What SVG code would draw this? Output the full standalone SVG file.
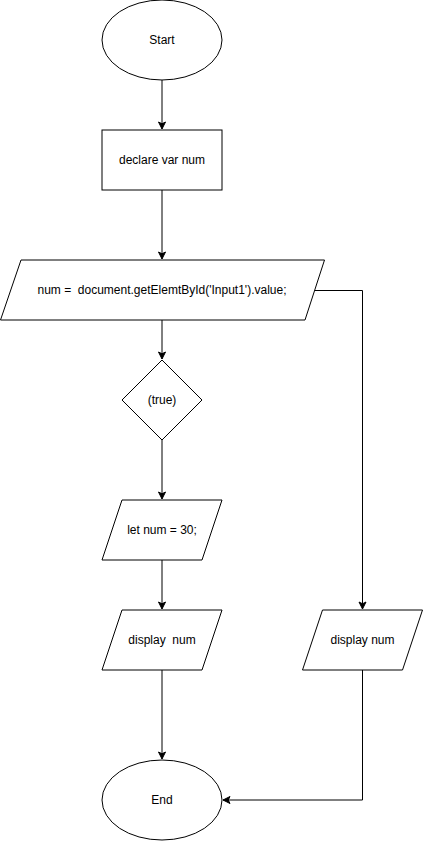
<svg xmlns="http://www.w3.org/2000/svg" width="423" height="841" viewBox="0 0 423 841">
<style>
.s{fill:#fff;stroke:#000;stroke-width:1}
.t{font-family:"Liberation Sans",Arial,sans-serif;font-size:12px;fill:#000;text-anchor:middle;dominant-baseline:central;white-space:pre}
.c{fill:none;stroke:#000;stroke-width:1}
</style>
<defs>
<marker id="a" markerWidth="10" markerHeight="10" refX="8" refY="5" orient="auto" markerUnits="userSpaceOnUse">
<path d="M1,1.5 L8,5 L1,8.5 L2.75,5 Z" fill="#000" stroke="#000" stroke-width="1"/>
</marker>
</defs>
<rect width="423" height="841" fill="#fff"/>
<g id="connectors">
<path class="c" d="M162,80 V129" marker-end="url(#a)"/>
<path class="c" d="M162,190 V259" marker-end="url(#a)"/>
<path class="c" d="M162,320 V359" marker-end="url(#a)"/>
<path class="c" d="M162,440 V499" marker-end="url(#a)"/>
<path class="c" d="M162,560 V609" marker-end="url(#a)"/>
<path class="c" d="M162,670 V759" marker-end="url(#a)"/>
<path class="c" d="M315,290.5 H362.5 V609" marker-end="url(#a)"/>
<path class="c" d="M362.5,670 V800 H223" marker-end="url(#a)"/>
</g>
<g id="start"><ellipse class="s" cx="162" cy="40" rx="60" ry="40"/><text class="t" x="162" y="40">Start</text></g>
<g id="declare"><rect class="s" x="102" y="130" width="120" height="60"/><text class="t" x="162" y="160">declare var num</text></g>
<g id="input"><path class="s" d="M21,260 H324.5 L305,320 H0.5 Z"/><text class="t" x="162" y="290" xml:space="preserve">num =  document.getElemtById('Input1').value;</text></g>
<g id="cond"><path class="s" d="M162,360 L202,400 L162,440 L122,400 Z"/><text class="t" x="162" y="400">(true)</text></g>
<g id="let"><path class="s" d="M122,500 H222 L202,560 H102 Z"/><text class="t" x="162" y="530">let num = 30;</text></g>
<g id="display1"><path class="s" d="M122,610 H222 L202,670 H102 Z"/><text class="t" x="162" y="640" xml:space="preserve">display  num</text></g>
<g id="display2"><path class="s" d="M322.5,610 H422.5 L402.5,670 H302.5 Z"/><text class="t" x="362.5" y="640">display num</text></g>
<g id="end"><ellipse class="s" cx="162" cy="800" rx="60" ry="40"/><text class="t" x="162" y="800">End</text></g>
</svg>
